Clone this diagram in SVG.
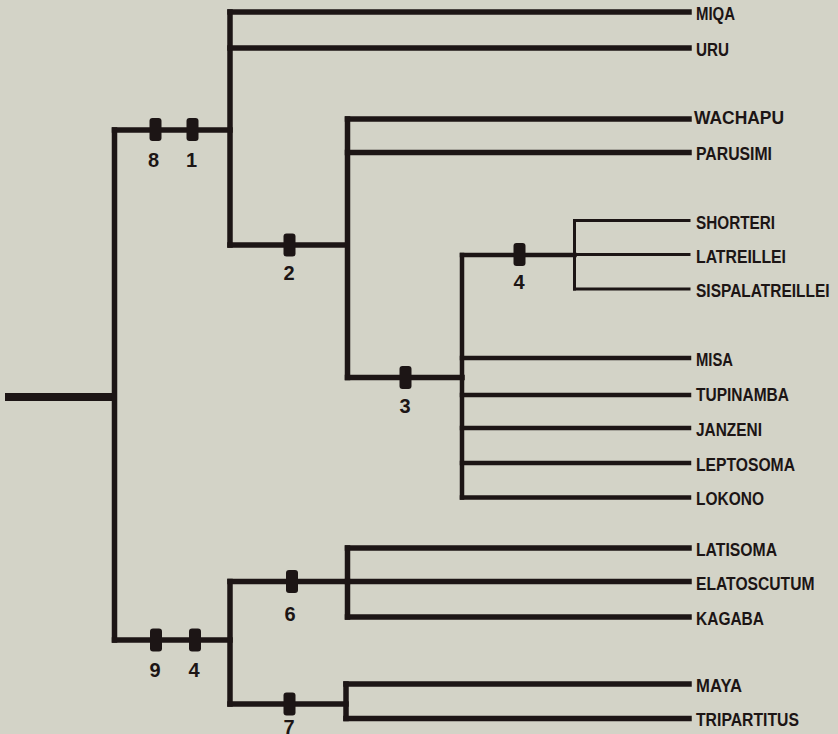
<svg xmlns="http://www.w3.org/2000/svg" width="838" height="734" viewBox="0 0 838 734">
  <style>
    .bg { fill: #d3d3c7; }
    .br { fill: none; stroke: #1c1515; stroke-width: 5.5; stroke-linecap: square; stroke-linejoin: miter; }
    .mid { stroke-width: 4.5; }
    .thin { stroke-width: 3; }
    .root { stroke-width: 8; stroke-linecap: butt; }
    .tick { fill: #1c1515; }
    .num { font-family: "Liberation Sans", Arial, sans-serif; font-weight: bold; font-size: 20px; fill: #1c1515; text-anchor: middle; }
    .taxon { font-family: "Liberation Sans", Arial, sans-serif; font-weight: bold; font-size: 19px; fill: #1c1515; }
  </style>
  <defs>
    <rect id="tick" x="-6" y="-11.5" width="12" height="23" rx="3"/>
  </defs>

  <rect class="bg" x="0" y="0" width="838" height="734"/>

  <!-- tree branches -->
  <g id="connectors">
    <!-- root stem and basal split -->
    <line class="br root" x1="5" y1="397" x2="114" y2="397"/>
    <path class="br" d="M114.5 130 V513 M114.5 517 V640"/>
    <path class="br" d="M114.5 130 H230"/>
    <path class="br" d="M114.5 640 H230"/>

    <!-- upper clade -->
    <path class="br" d="M230 12 V245"/>
    <path class="br" d="M230 12 H689"/>
    <path class="br" d="M230 48 H689"/>
    <path class="br" d="M230 245 H347"/>

    <path class="br" d="M347.5 119 V377.5"/>
    <path class="br" d="M347.5 119 H689"/>
    <path class="br" d="M347.5 152.5 H689"/>
    <path class="br" d="M347.5 377.5 H462"/>

    <path class="br mid" d="M462 255 V497.5"/>
    <path class="br mid" d="M462 255 H574.5"/>
    <path class="br mid" d="M462 358 H689"/>
    <path class="br mid" d="M462 395 H689"/>
    <path class="br mid" d="M462 428 H689"/>
    <path class="br mid" d="M462 463 H689"/>
    <path class="br mid" d="M462 497.5 H689"/>

    <path class="br thin" d="M574.5 220.5 V289"/>
    <path class="br thin" d="M574.5 220.5 H689"/>
    <path class="br thin" d="M574.5 254.5 H689"/>
    <path class="br thin" d="M574.5 289 H689"/>

    <!-- lower clade -->
    <path class="br" d="M230 581.5 V704"/>
    <path class="br" d="M230 581.5 H347.5"/>
    <path class="br" d="M230 704 H346"/>

    <path class="br" d="M347.5 548 V617"/>
    <path class="br" d="M347.5 548 H689"/>
    <path class="br" d="M347.5 581.5 H689"/>
    <path class="br" d="M347.5 617 H689"/>

    <path class="br" d="M346 684 V718.5"/>
    <path class="br" d="M346 684 H689"/>
    <path class="br" d="M346 718.5 H689"/>
  </g>

  <!-- character-state ticks -->
  <g id="tick-8"><use href="#tick" class="tick" x="155.5" y="129.5"/><text class="num" x="153.5" y="167">8</text></g>
  <g id="tick-1"><use href="#tick" class="tick" x="192.5" y="129.5"/><text class="num" x="191.5" y="167">1</text></g>
  <g id="tick-2"><use href="#tick" class="tick" x="289.5" y="245"/><text class="num" x="289" y="280">2</text></g>
  <g id="tick-3"><use href="#tick" class="tick" x="405.5" y="377.5"/><text class="num" x="405" y="413">3</text></g>
  <g id="tick-4a"><use href="#tick" class="tick" x="519.5" y="254.5"/><text class="num" x="519" y="289">4</text></g>
  <g id="tick-9"><use href="#tick" class="tick" x="156" y="640"/><text class="num" x="155" y="677">9</text></g>
  <g id="tick-4b"><use href="#tick" class="tick" x="195" y="640"/><text class="num" x="194" y="677">4</text></g>
  <g id="tick-6"><use href="#tick" class="tick" x="292" y="581.5"/><text class="num" x="290" y="621">6</text></g>
  <g id="tick-7"><use href="#tick" class="tick" x="289.5" y="704"/><text class="num" x="289" y="734">7</text></g>

  <!-- terminal taxa -->
  <g id="miqa"><text class="taxon" x="696" y="20" textLength="39" lengthAdjust="spacingAndGlyphs">MIQA</text></g>
  <g id="uru"><text class="taxon" x="696" y="56" textLength="33" lengthAdjust="spacingAndGlyphs">URU</text></g>
  <g id="wachapu"><text class="taxon" x="694" y="124" textLength="90" lengthAdjust="spacingAndGlyphs">WACHAPU</text></g>
  <g id="parusimi"><text class="taxon" x="696" y="160" textLength="76" lengthAdjust="spacingAndGlyphs">PARUSIMI</text></g>
  <g id="shorteri"><text class="taxon" x="696" y="229" textLength="79" lengthAdjust="spacingAndGlyphs">SHORTERI</text></g>
  <g id="latreillei"><text class="taxon" x="696" y="262.5" textLength="90" lengthAdjust="spacingAndGlyphs">LATREILLEI</text></g>
  <g id="sispalatreillei"><text class="taxon" transform="translate(696 296.5) scale(0.815 1)" x="0" y="0">SISPALATREILLEI</text></g>
  <g id="misa"><text class="taxon" x="696" y="366" textLength="37" lengthAdjust="spacingAndGlyphs">MISA</text></g>
  <g id="tupinamba"><text class="taxon" x="696" y="401" textLength="93" lengthAdjust="spacingAndGlyphs">TUPINAMBA</text></g>
  <g id="janzeni"><text class="taxon" x="696" y="436" textLength="66" lengthAdjust="spacingAndGlyphs">JANZENI</text></g>
  <g id="leptosoma"><text class="taxon" x="696" y="471" textLength="99" lengthAdjust="spacingAndGlyphs">LEPTOSOMA</text></g>
  <g id="lokono"><text class="taxon" x="696" y="505" textLength="68" lengthAdjust="spacingAndGlyphs">LOKONO</text></g>
  <g id="latisoma"><text class="taxon" x="696" y="556" textLength="81" lengthAdjust="spacingAndGlyphs">LATISOMA</text></g>
  <g id="elatoscutum"><text class="taxon" transform="translate(696 590) scale(0.824 1)" x="0" y="0">ELATOSCUTUM</text></g>
  <g id="kagaba"><text class="taxon" x="696" y="625" textLength="68" lengthAdjust="spacingAndGlyphs">KAGABA</text></g>
  <g id="maya"><text class="taxon" x="696" y="692" textLength="46" lengthAdjust="spacingAndGlyphs">MAYA</text></g>
  <g id="tripartitus"><text class="taxon" x="696" y="726" textLength="103" lengthAdjust="spacingAndGlyphs">TRIPARTITUS</text></g>
</svg>
